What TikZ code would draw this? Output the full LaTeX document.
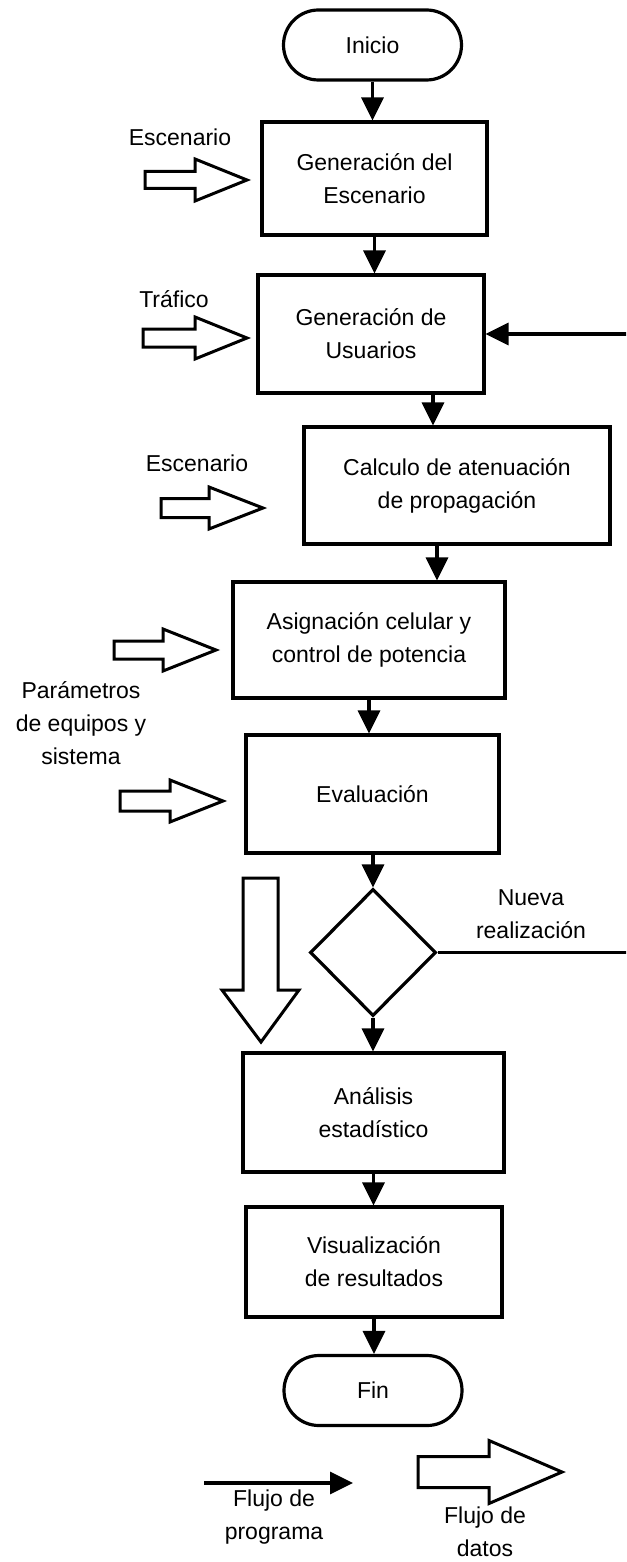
\documentclass[tikz,border=0pt]{standalone}
\usepackage{fontspec}
\setmainfont{Liberation Sans}
\usetikzlibrary{arrows.meta,shapes.geometric}

% hollow right-pointing data arrow: tail x, head base x, tip x, axis y, shaft half-height, head half-height
\newcommand{\datright}[6]{%
  \draw[datastyle] (#1,{#4-#5}) -- (#2,{#4-#5}) -- (#2,{#4-#6}) -- (#3,#4)
    -- (#2,{#4+#6}) -- (#2,{#4+#5}) -- (#1,{#4+#5}) -- cycle;}

\begin{document}
\begin{tikzpicture}[x=0.5pt,y=-0.5pt,
  every node/.style={font=\fontsize{11.5}{16.5}\selectfont},
  proc/.style={draw, line width=1.6pt, align=center, inner sep=0pt},
  term/.style={draw, line width=1.6pt, minimum width=89pt, minimum height=35pt,
    rounded corners=17.5pt},
  flow/.style={line width=1.6pt, -{Triangle[width=11pt,length=11.5pt]}},
  datastyle/.style={line width=1.5pt, line join=miter, fill=white},
  lbl/.style={align=center, inner sep=0pt}]

\useasboundingbox (0,0) rectangle (626,1562);
\clip (0,0) rectangle (626,1562);
\fill[white] (0,0) rectangle (626,1562);

% main chain of steps
\node[term] (ini) at (372.5,45) {Inicio};
\node[proc, minimum width=112.5pt, minimum height=56.5pt] (b1) at (374.5,178.5)
  {Generación del\\Escenario};
\node[proc, minimum width=113pt, minimum height=59pt] (b2) at (371,334)
  {Generación de\\Usuarios};
\node[proc, minimum width=153pt, minimum height=58.5pt] (b3) at (457,485.5)
  {Calculo de atenuación\\de propagación};
\node[proc, minimum width=136pt, minimum height=58pt] (b4) at (369,640)
  {Asignación celular y\\control de potencia};
\node[proc, minimum width=126.5pt, minimum height=59pt] (b5) at (372.5,794)
  {Evaluación};
\node[draw, diamond, line width=1.6pt, minimum width=63pt, minimum height=63.5pt,
  inner sep=0pt] (dia) at (373,952.5) {};
\node[proc, minimum width=130.5pt, minimum height=59.5pt] (b6) at (373.5,1112.5)
  {Análisis\\estadístico};
\node[proc, minimum width=128pt, minimum height=55pt] (b7) at (374,1262)
  {Visualización\\de resultados};
\node[term] (fin) at (373,1390.5) {Fin};

% program flow
\draw[flow] (ini.south) -- (ini.south |- b1.north);
\draw[flow] (b1.south) -- (b1.south |- b2.north);
\draw[flow] ([xshift=31pt]b2.south) -- ([xshift=31pt]b2.south |- b3.north);
\draw[flow] ([xshift=-10pt]b3.south) -- ([xshift=-10pt]b3.south |- b4.north);
\draw[flow] (b4.south) -- (b4.south |- b5.north);
\draw[flow] (b5.south -| dia.north) -- (dia.north);
\draw[flow] (dia.south) -- (dia.south |- b6.north);
\draw[flow] (b6.south) -- (b6.south |- b7.north);
\draw[flow] (b7.south) -- (b7.south |- fin.north);

% loop back for a new run
\coordinate (edge) at (640,0);
\draw[flow] (dia.east) -- (dia.east -| edge) |- (b2.east);

% data inputs
\node[lbl] (lesc1) at (180,137) {Escenario};
\node[lbl] (ltra) at (174,299) {Tráfico};
\node[lbl] (lesc2) at (197,463) {Escenario};
\node[lbl] (lpar) at (81,723) {Parámetros\\de equipos y\\sistema};
\node[lbl] (lnue) at (531,914.5) {Nueva\\realización};

\datright{145}{195}{247}{180}{8.5}{21}
\datright{143}{195}{247}{338}{9}{21}
\datright{161}{209}{263}{508}{9.5}{21}
\datright{114}{163}{216}{650}{9}{21}
\datright{120}{170}{223}{801}{10}{21}
\draw[datastyle] (243,878) -- (278,878) -- (278,990) -- (299,990) -- (261,1042)
  -- (222,990) -- (243,990) -- cycle;

% legend
\coordinate (pfa) at (204,1483);
\coordinate (pfb) at (353,1483);
\draw[flow] (pfa) -- (pfb);
\node[lbl] (lpro) at (274,1517) {Flujo de\\programa};
\datright{418}{489}{562}{1472}{15.5}{31.5}
\node[lbl] (ldat) at (485,1532) {Flujo de\\datos};
\end{tikzpicture}
\end{document}
